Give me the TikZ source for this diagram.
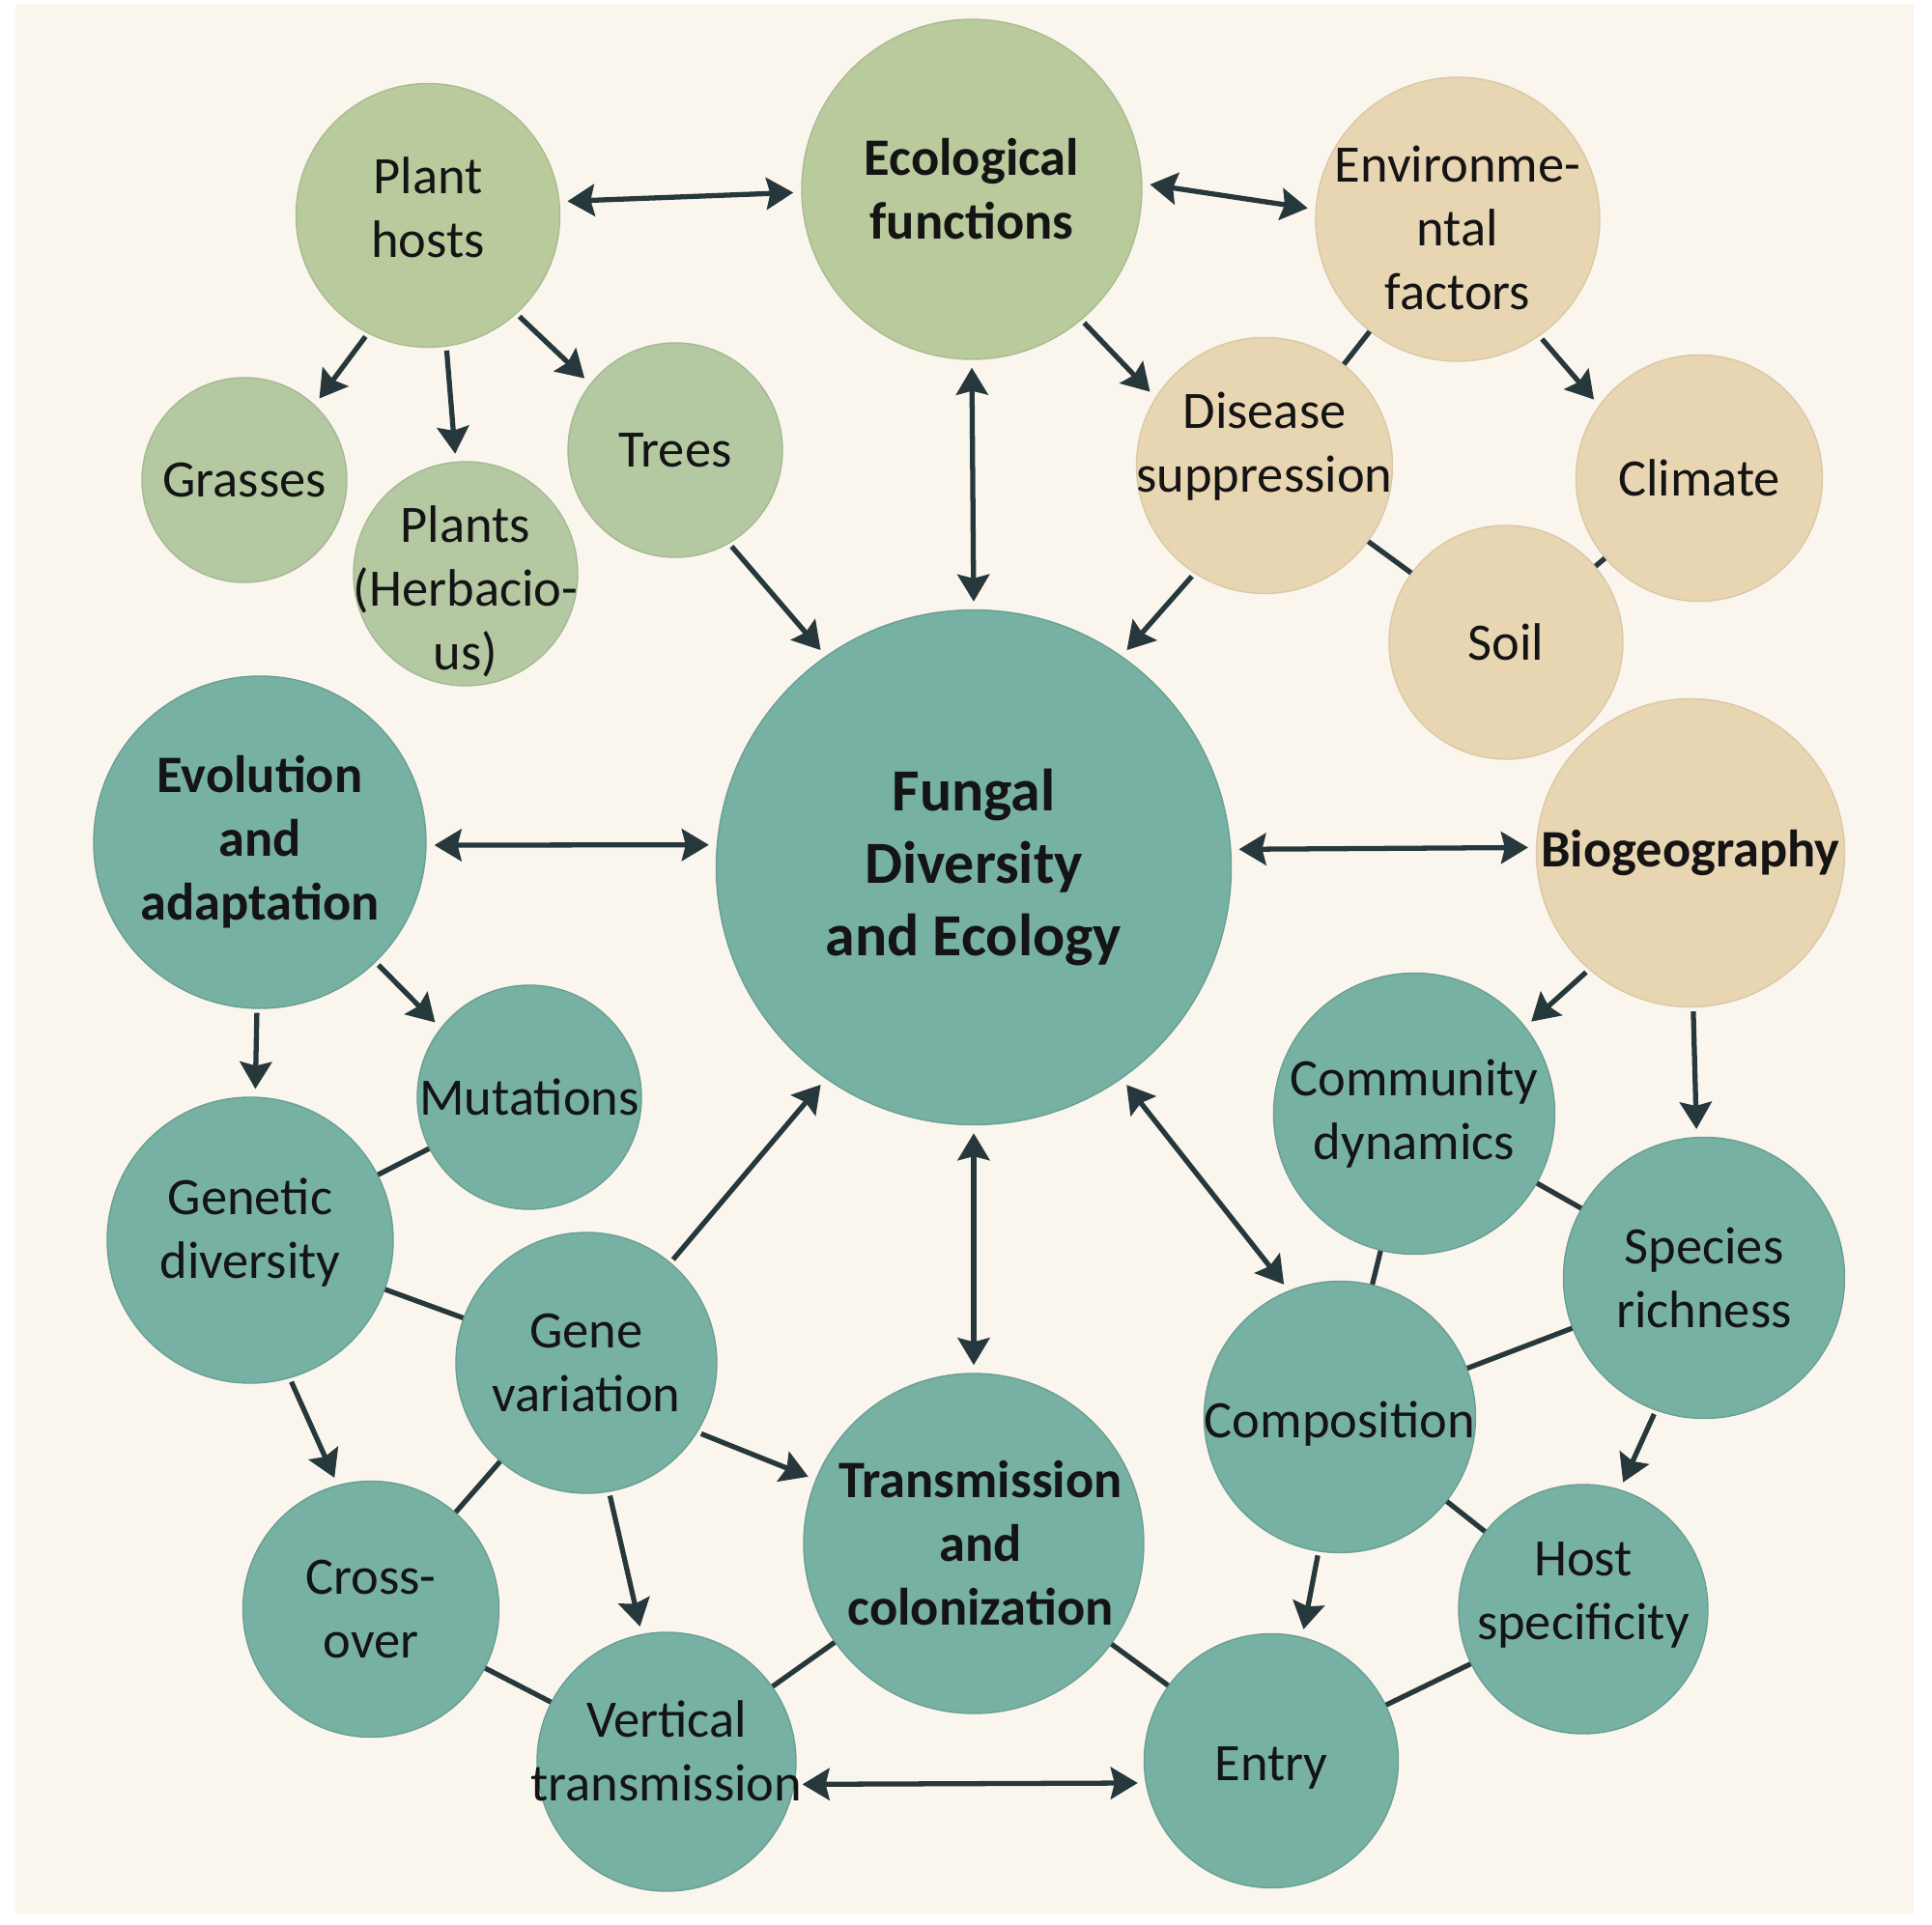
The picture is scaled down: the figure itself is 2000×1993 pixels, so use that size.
\documentclass[tikz,border=0pt]{standalone}
\usepackage{fontspec}
\setmainfont{Carlito}
\usetikzlibrary{arrows.meta}
\definecolor{fgink}{HTML}{27383C}
\definecolor{fgpaper}{HTML}{FAF6EE}
\definecolor{fgsage}{HTML}{B9CB9C}
\definecolor{fgmoss}{HTML}{B4C8A2}
\definecolor{fgsand}{HTML}{E8D5B2}
\definecolor{fgteal}{HTML}{76B1A3}

\begin{document}
\begin{tikzpicture}[
  x=0.1mm, y=-0.1mm,
  bubble/.style={circle, inner sep=0pt, minimum size=#1, line width=0.4pt},
  sage/.style={bubble=#1, fill=fgsage, draw=fgsage!92!black},
  moss/.style={bubble=#1, fill=fgmoss, draw=fgmoss!92!black},
  sand/.style={bubble=#1, fill=fgsand, draw=fgsand!94!black},
  teal/.style={bubble=#1, fill=fgteal, draw=fgteal!90!black},
  txt/.style={font=\fontsize{15.5}{18.8}\selectfont, align=center, text=black!92},
  btxt/.style={txt, font=\fontsize{15.5}{18.8}\selectfont\bfseries},
  fgtip/.tip={Stealth[length=2.8mm, width=3.3mm, inset=0.4mm]},
  link/.style={draw=fgink, line width=1.5pt},
  flow/.style={link, -fgtip, shorten >=0.8mm, shorten <=0.4mm},
  both/.style={link, fgtip-fgtip, shorten >=0.8mm, shorten <=0.8mm},
  ]
  \useasboundingbox (0,0) rectangle (2000,1993);
  \fill[white] (0,0) rectangle (2000,1993);
  \fill[fgpaper] (16,4) rectangle (1981,1982);

  % Plant side, top left.
  \node[sage=27.3mm, label={[txt, yshift=0.8mm]center:{Plant\\hosts}}] (plant) at (443,223) {};
  \node[moss=21.2mm, label={[txt]center:Grasses}] (grass) at (253,497) {};
  \node[moss=23.2mm, label={[txt, yshift=-1.8mm]center:{Plants\\(Herbacio-\\us)}}] (herb) at (482,594) {};
  \node[moss=22.2mm, label={[txt]center:Trees}] (trees) at (699,466) {};
  \node[sage=35.2mm, label={[btxt]center:{Ecological\\functions}}] (ecofn) at (1006,196) {};

  % Environment, top right.
  \node[sand=29.4mm, label={[txt, yshift=-0.9mm]center:{Environme-\\ntal\\factors}}] (envir) at (1509,227) {};
  \node[sand=26.5mm, label={[txt, yshift=2mm]center:{Disease\\suppression}}] (disease) at (1309,482) {};
  \node[sand=25.5mm, label={[txt]center:Climate}] (climate) at (1759,495) {};
  \node[sand=24.2mm, label={[txt]center:Soil}] (soil) at (1559,665) {};
  \node[sand=31.9mm, label={[btxt]center:Biogeography}] (biogeo) at (1750,883) {};

  % Centre.
  \node[teal=53.3mm, label={[txt, font=\fontsize{17.6}{21.4}\selectfont\bfseries]center:{Fungal\\Diversity\\and Ecology}}] (fungal) at (1008,898) {};

  % Evolution, bottom left.
  \node[teal=34.4mm, label={[btxt]center:{Evolution\\and\\adaptation}}] (evol) at (269,872) {};
  \node[teal=23.2mm, label={[txt]center:Mutations}] (mutat) at (548,1136) {};
  \node[teal=29.6mm, label={[txt, yshift=0.8mm]center:{Genetic\\diversity}}] (genetic) at (259,1284) {};
  \node[teal=27mm, label={[txt]center:{Gene\\variation}}] (genevar) at (607,1411) {};
  \node[teal=26.5mm, label={[txt]center:{Cross-\\over}}] (cross) at (384,1666) {};
  \node[teal=26.8mm, label={[txt, yshift=1.1mm]center:{Vertical\\transmission}}] (vertical) at (690,1824) {};
  \node[teal=35.2mm, label={[btxt, xshift=0.7mm]center:{Transmission\\and\\colonization}}] (transcol) at (1008,1598) {};

  % Community, bottom right.
  \node[teal=26.3mm, label={[txt, yshift=-0.7mm]center:Entry}] (entry) at (1316,1823) {};
  \node[teal=28.1mm, label={[txt, yshift=-0.7mm]center:Composition}] (compos) at (1387,1467) {};
  \node[teal=29.1mm, label={[txt]center:{Community\\dynamics}}] (commun) at (1464,1153) {};
  \node[teal=29.1mm, label={[txt]center:{Species\\richness}}] (species) at (1764,1323) {};
  \node[teal=25.8mm, label={[txt, yshift=1.5mm]center:{Host\\specificity}}] (hostsp) at (1639,1666) {};

  % Top connectors.
  \draw[both] (plant.6) -- (ecofn.181);
  \draw[both] (ecofn.2) -- (envir.176);
  \draw[both] (ecofn.-90) -- (fungal.90);
  \draw[flow] (ecofn.-50) -- (disease.148);
  \draw[link] (envir) -- (disease);
  \draw[flow] (envir.-55) -- (climate.144);
  \draw[link] (disease) -- (soil);
  \draw[link] (climate) -- (soil);
  \draw[flow] (disease.-123) -- (fungal.55);
  \draw[flow] (plant.-117) -- (grass.47);
  \draw[flow] (plant.-82) -- (herb.95);
  \draw[flow] (plant.-48) -- (trees.142);
  \draw[flow] (trees.-60) -- (fungal.125);

  % Across the middle.
  \draw[both] (evol.-1) -- (fungal.175);
  \draw[both] (fungal.4) -- (biogeo.178);

  % Left group.
  \draw[flow] (evol.-46) -- (mutat.142);
  \draw[flow] (evol.-91) -- (genetic.88);
  \draw[link] (mutat) -- (genetic);
  \draw[link] (genetic) -- (genevar);
  \draw[flow] (genetic.-74) -- (cross.105);
  \draw[flow] (genevar.50) -- (fungal.-125);
  \draw[link] (genevar) -- (cross);
  \draw[flow] (genevar.-32) -- (transcol.158);
  \draw[flow] (genevar.-80) -- (vertical.101);
  \draw[link] (cross) -- (vertical);
  \draw[link] (transcol) -- (vertical);

  % Bottom and right group.
  \draw[both] (fungal.-90) -- (transcol.90);
  \draw[both] (fungal.-55) -- (compos.112);
  \draw[both] (vertical.-10) -- (entry.-170);
  \draw[link] (transcol) -- (entry);
  \draw[flow] (biogeo.-131) -- (commun.38);
  \draw[flow] (biogeo.-89) -- (species.93);
  \draw[link] (commun) -- (species);
  \draw[link] (commun) -- (compos);
  \draw[link] (species) -- (compos);
  \draw[flow] (species.-110) -- (hostsp.73);
  \draw[flow] (compos.-99) -- (entry.76);
  \draw[link] (compos) -- (hostsp);
  \draw[link] (hostsp) -- (entry);
\end{tikzpicture}
\end{document}
